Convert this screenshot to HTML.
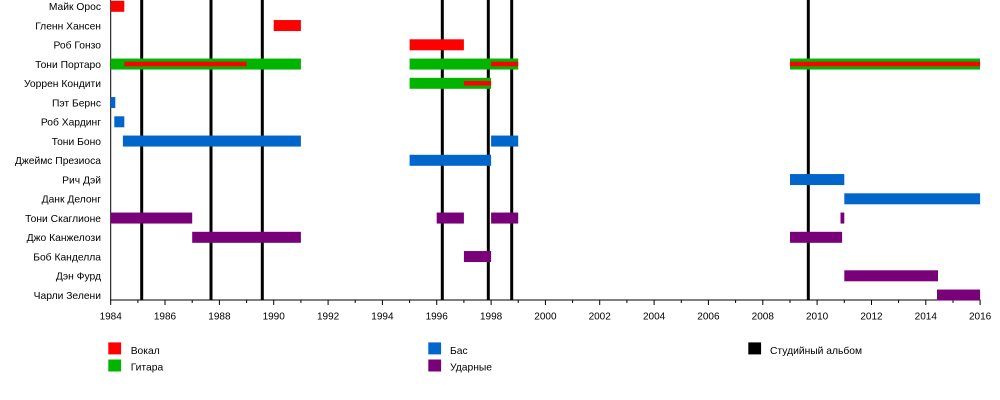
<!DOCTYPE html>
<html>
<head>
<meta charset="utf-8">
<style>
  html, body { margin: 0; padding: 0; background: #ffffff; }
  svg { display: block; }
  text { font-family: "Liberation Sans", "DejaVu Sans", sans-serif; fill: #000; }
  .nm { font-size: 10.3px; text-anchor: end; }
  .tk { font-size: 10px; text-anchor: middle; }
  .lg { font-size: 10.3px; }
</style>
</head>
<body>
<svg width="1000" height="400" viewBox="0 0 1000 400" xmlns="http://www.w3.org/2000/svg">
  <rect x="0" y="0" width="1000" height="400" fill="#ffffff"/>

  <!-- album lines (behind bars) -->
  <g fill="#000">
    <rect x="140.2" y="0" width="3" height="300"/>
    <rect x="209.5" y="0" width="3" height="300"/>
    <rect x="260.8" y="0" width="3" height="300"/>
    <rect x="440.8" y="0" width="3" height="300"/>
    <rect x="486.8" y="0" width="3" height="300"/>
    <rect x="510.2" y="0" width="3" height="300"/>
    <rect x="806.8" y="0" width="3" height="300"/>
  </g>

  <!-- axes -->
  <rect x="110.2" y="0" width="1" height="300.5" fill="#000"/>
  <rect x="110.2" y="299.5" width="870.4" height="1" fill="#000"/>

  <!-- ticks -->
  <g stroke="#000" stroke-width="1">
    <line x1="110.7" y1="300" x2="110.7" y2="305"/>
    <line x1="137.9" y1="300" x2="137.9" y2="303"/>
    <line x1="165.0" y1="300" x2="165.0" y2="305"/>
    <line x1="192.2" y1="300" x2="192.2" y2="303"/>
    <line x1="219.4" y1="300" x2="219.4" y2="305"/>
    <line x1="246.6" y1="300" x2="246.6" y2="303"/>
    <line x1="273.7" y1="300" x2="273.7" y2="305"/>
    <line x1="300.9" y1="300" x2="300.9" y2="303"/>
    <line x1="328.1" y1="300" x2="328.1" y2="305"/>
    <line x1="355.2" y1="300" x2="355.2" y2="303"/>
    <line x1="382.4" y1="300" x2="382.4" y2="305"/>
    <line x1="409.6" y1="300" x2="409.6" y2="303"/>
    <line x1="436.7" y1="300" x2="436.7" y2="305"/>
    <line x1="463.9" y1="300" x2="463.9" y2="303"/>
    <line x1="491.1" y1="300" x2="491.1" y2="305"/>
    <line x1="518.2" y1="300" x2="518.2" y2="303"/>
    <line x1="545.4" y1="300" x2="545.4" y2="305"/>
    <line x1="572.6" y1="300" x2="572.6" y2="303"/>
    <line x1="599.7" y1="300" x2="599.7" y2="305"/>
    <line x1="626.9" y1="300" x2="626.9" y2="303"/>
    <line x1="654.1" y1="300" x2="654.1" y2="305"/>
    <line x1="681.3" y1="300" x2="681.3" y2="303"/>
    <line x1="708.4" y1="300" x2="708.4" y2="305"/>
    <line x1="735.6" y1="300" x2="735.6" y2="303"/>
    <line x1="762.8" y1="300" x2="762.8" y2="305"/>
    <line x1="790.0" y1="300" x2="790.0" y2="303"/>
    <line x1="817.1" y1="300" x2="817.1" y2="305"/>
    <line x1="844.3" y1="300" x2="844.3" y2="303"/>
    <line x1="871.5" y1="300" x2="871.5" y2="305"/>
    <line x1="898.6" y1="300" x2="898.6" y2="303"/>
    <line x1="925.8" y1="300" x2="925.8" y2="305"/>
    <line x1="953.0" y1="300" x2="953.0" y2="303"/>
    <line x1="980.1" y1="300" x2="980.1" y2="305"/>
  </g>

  <!-- tick labels -->
  <g class="tk">
    <text x="110.7" y="319.7" class="tk">1984</text>
    <text x="165.0" y="319.7" class="tk">1986</text>
    <text x="219.4" y="319.7" class="tk">1988</text>
    <text x="273.7" y="319.7" class="tk">1990</text>
    <text x="328.1" y="319.7" class="tk">1992</text>
    <text x="382.4" y="319.7" class="tk">1994</text>
    <text x="436.7" y="319.7" class="tk">1996</text>
    <text x="491.1" y="319.7" class="tk">1998</text>
    <text x="545.4" y="319.7" class="tk">2000</text>
    <text x="599.7" y="319.7" class="tk">2002</text>
    <text x="654.1" y="319.7" class="tk">2004</text>
    <text x="708.4" y="319.7" class="tk">2006</text>
    <text x="762.8" y="319.7" class="tk">2008</text>
    <text x="817.1" y="319.7" class="tk">2010</text>
    <text x="871.5" y="319.7" class="tk">2012</text>
    <text x="925.8" y="319.7" class="tk">2014</text>
    <text x="980.1" y="319.7" class="tk">2016</text>
  </g>

  <!-- row labels -->
  <text class="nm" x="101" y="10.0">Майк Орос</text>
  <text class="nm" x="101" y="29.25">Гленн Хансен</text>
  <text class="nm" x="101" y="48.5">Роб Гонзо</text>
  <text class="nm" x="101" y="67.75">Тони Портаро</text>
  <text class="nm" x="101" y="87.0">Уоррен Кондити</text>
  <text class="nm" x="101" y="106.25">Пэт Бернс</text>
  <text class="nm" x="101" y="125.5">Роб Хардинг</text>
  <text class="nm" x="101" y="144.75">Тони Боно</text>
  <text class="nm" x="101" y="164.0">Джеймс Презиоса</text>
  <text class="nm" x="101" y="183.25">Рич Дэй</text>
  <text class="nm" x="101" y="202.5">Данк Делонг</text>
  <text class="nm" x="101" y="221.75">Тони Скаглионе</text>
  <text class="nm" x="101" y="241.0">Джо Канжелози</text>
  <text class="nm" x="101" y="260.25">Боб Канделла</text>
  <text class="nm" x="101" y="279.5">Дэн Фурд</text>
  <text class="nm" x="101" y="298.75">Чарли Зелени</text>

  <!-- bars -->
  <!-- Row 0 Майк Орос -->
  <rect x="110.7" y="0.8" width="13.6" height="11" fill="#ff0000"/>
  <!-- Row 1 Гленн Хансен -->
  <rect x="273.7" y="20.05" width="27.2" height="11" fill="#ff0000"/>
  <!-- Row 2 Роб Гонзо -->
  <rect x="409.6" y="39.3" width="54.3" height="11" fill="#ff0000"/>
  <!-- Row 3 Тони Портаро -->
  <rect x="110.7" y="58.55" width="190.2" height="11" fill="#00b400"/>
  <rect x="124.3" y="61.75" width="122.3" height="4.6" fill="#ff0000"/>
  <rect x="409.6" y="58.55" width="108.6" height="11" fill="#00b400"/>
  <rect x="491.1" y="61.75" width="27.1" height="4.6" fill="#ff0000"/>
  <rect x="790.0" y="58.55" width="190.1" height="11" fill="#00b400"/>
  <rect x="790.0" y="61.75" width="190.1" height="4.6" fill="#ff0000"/>
  <!-- Row 4 Уоррен Кондити -->
  <rect x="409.6" y="77.8" width="81.5" height="11" fill="#00b400"/>
  <rect x="463.9" y="81.0" width="27.2" height="4.6" fill="#ff0000"/>
  <!-- Row 5 Пэт Бернс -->
  <rect x="110.7" y="97.05" width="4.6" height="11" fill="#0066cc"/>
  <!-- Row 6 Роб Хардинг -->
  <rect x="114.3" y="116.3" width="10.0" height="11" fill="#0066cc"/>
  <!-- Row 7 Тони Боно -->
  <rect x="122.9" y="135.55" width="178.0" height="11" fill="#0066cc"/>
  <rect x="491.1" y="135.55" width="27.1" height="11" fill="#0066cc"/>
  <!-- Row 8 Джеймс Презиоса -->
  <rect x="409.6" y="154.8" width="81.5" height="11" fill="#0066cc"/>
  <!-- Row 9 Рич Дэй -->
  <rect x="790.0" y="174.05" width="54.3" height="11" fill="#0066cc"/>
  <!-- Row 10 Данк Делонг -->
  <rect x="844.3" y="193.3" width="135.8" height="11" fill="#0066cc"/>
  <!-- Row 11 Тони Скаглионе -->
  <rect x="110.7" y="212.55" width="81.5" height="11" fill="#780078"/>
  <rect x="436.7" y="212.55" width="27.2" height="11" fill="#780078"/>
  <rect x="491.1" y="212.55" width="27.1" height="11" fill="#780078"/>
  <rect x="840.5" y="212.55" width="3.8" height="11" fill="#780078"/>
  <!-- Row 12 Джо Канжелози -->
  <rect x="192.2" y="231.8" width="108.7" height="11" fill="#780078"/>
  <rect x="790.0" y="231.8" width="52.1" height="11" fill="#780078"/>
  <!-- Row 13 Боб Канделла -->
  <rect x="463.9" y="251.05" width="27.2" height="11" fill="#780078"/>
  <!-- Row 14 Дэн Фурд -->
  <rect x="844.3" y="270.3" width="93.7" height="11" fill="#780078"/>
  <!-- Row 15 Чарли Зелени -->
  <rect x="937.0" y="289.55" width="43.1" height="11" fill="#780078"/>

  <!-- legend -->
  <rect x="108.3" y="342.4" width="12.8" height="12" fill="#ff0000"/>
  <text class="lg" x="130.7" y="354">Вокал</text>
  <rect x="108.3" y="359.5" width="12.8" height="12" fill="#00b400"/>
  <text class="lg" x="130.7" y="370.7">Гитара</text>

  <rect x="428.3" y="342.4" width="12.8" height="12" fill="#0066cc"/>
  <text class="lg" x="450" y="354">Бас</text>
  <rect x="428.3" y="359.5" width="12.8" height="12" fill="#780078"/>
  <text class="lg" x="450" y="370.7">Ударные</text>

  <rect x="748.3" y="342.4" width="12.8" height="12" fill="#000000"/>
  <text class="lg" x="770" y="354">Студийный альбом</text>
</svg>
</body>
</html>
